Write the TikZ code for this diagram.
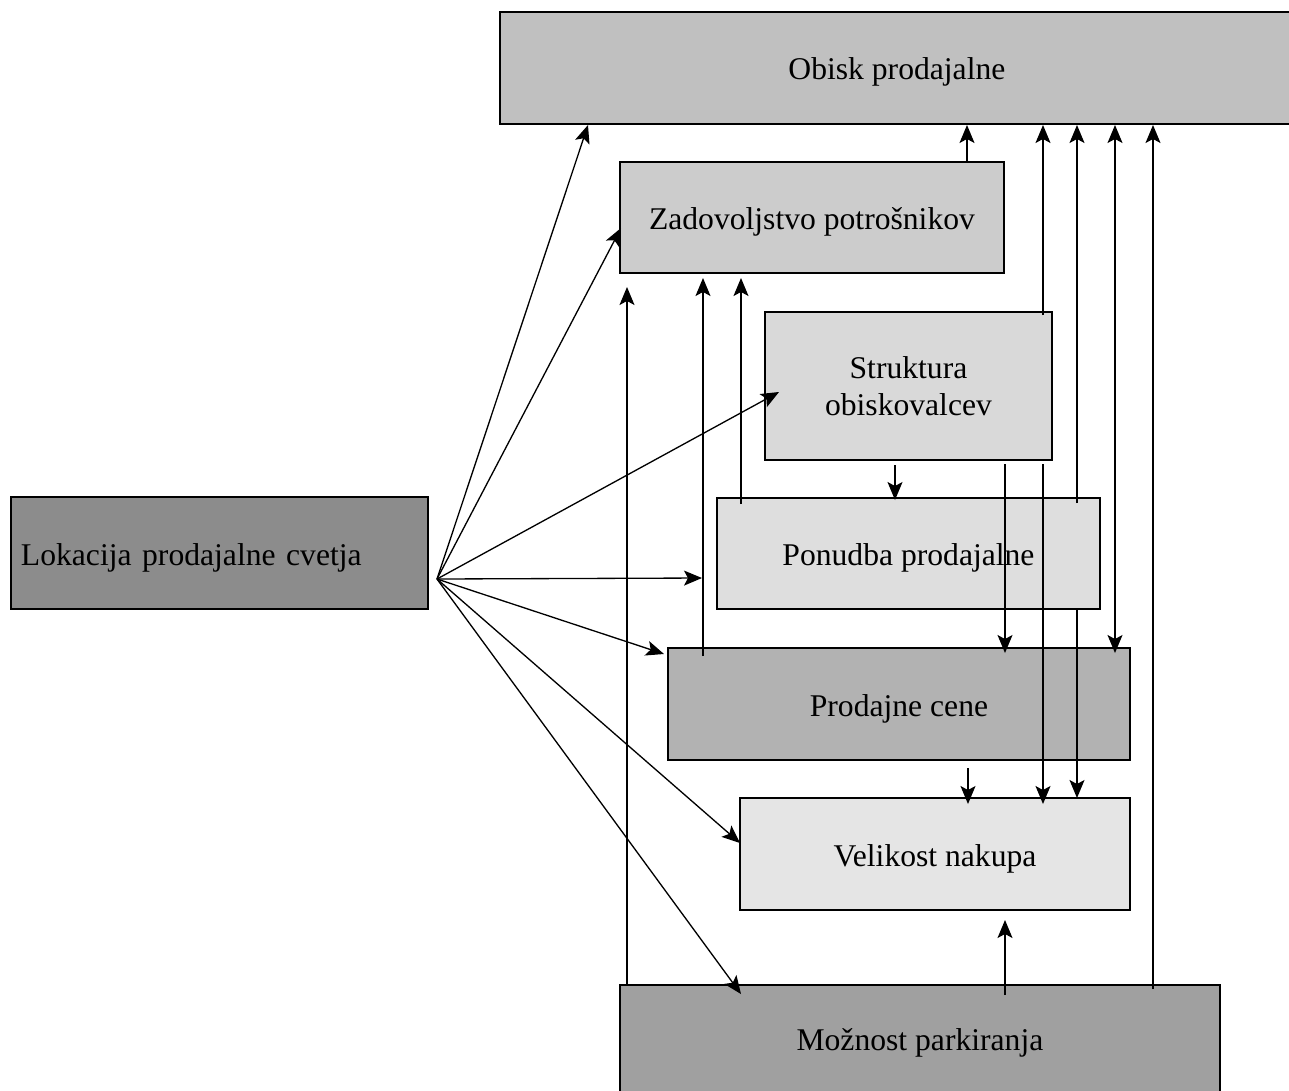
\documentclass[tikz,border=0pt]{standalone}
\usepackage{fontspec}
\setmainfont{Liberation Serif}
\usetikzlibrary{arrows.meta}
\definecolor{cObisk}{HTML}{C0C0C0}
\definecolor{cZad}{HTML}{CCCCCC}
\definecolor{cStr}{HTML}{D9D9D9}
\definecolor{cPon}{HTML}{DEDEDE}
\definecolor{cPro}{HTML}{B2B2B2}
\definecolor{cVel}{HTML}{E5E5E5}
\definecolor{cMoz}{HTML}{A0A0A0}
\definecolor{cLok}{HTML}{8C8C8C}
\begin{document}
\begin{tikzpicture}[x=0.02cm,y=-0.02cm,
  box/.style={draw=black, line width=0.8pt, anchor=north west, inner sep=0pt, outer sep=0pt,
    font=\fontsize{18pt}{21pt}\selectfont, align=center},
  lowtext/.style={text height=0.54cm, text depth=0.06cm},
  tipS/.tip={Stealth[length=0.36cm,width=0.3cm,inset=0.08cm]},
  arr/.style={line width=0.75pt, -tipS},
  arrboth/.style={line width=0.75pt, tipS-tipS}]
\useasboundingbox (0,0) rectangle (1289,1090);
\clip (0,0) rectangle (1289,1090);
\fill[white] (0,0) rectangle (1289,1090);

% boxes
\node[box, draw=none, lowtext, fill=cObisk, minimum width=15.88cm, minimum height=2.24cm] (obisk) at (500,12) {Obisk prodajalne};
\draw[line width=0.8pt] (obisk.north east) -- (obisk.north west) -- (obisk.south west) -- (obisk.south east);
\node[box, lowtext, fill=cZad, minimum width=7.68cm, minimum height=2.22cm] (zad) at (620,162) {Zadovoljstvo potrošnikov};
\node[box, fill=cStr, minimum width=5.74cm, minimum height=2.96cm] (str) at (765,312) {Struktura\\obiskovalcev};
\node[box, lowtext, fill=cPon, minimum width=7.66cm, minimum height=2.22cm] (pon) at (717,498) {Ponudba prodajalne};
\node[box, lowtext, fill=cPro, minimum width=9.24cm, minimum height=2.24cm] (pro) at (668,648) {Prodajne cene};
\node[box, lowtext, fill=cVel, minimum width=7.8cm, minimum height=2.24cm] (vel) at (740,798) {Velikost nakupa};
\node[box, fill=cMoz, minimum width=12cm, minimum height=2.3cm] (moz) at (620,985) {Možnost parkiranja};
\node[box, fill=cLok, text height=0.58cm, text depth=0.06cm, minimum height=2.24cm, inner xsep=0.2cm, text width=7.94cm, align=left] (lok) at (11,497) {Lokacija prodajalne cvetja};

% fan from Lokacija
\coordinate (fan) at (437,579);
\coordinate (f1) at (588,125);
\coordinate (f2) at (621,228);
\coordinate (f3) at (779,392);
\coordinate (f4) at (702,578);
\coordinate (f5) at (664,654);
\coordinate (f6) at (740,843);
\coordinate (f7) at (741,994);
\foreach \t in {f1,f2,f3,f4,f5,f6,f7} \draw[arr] (fan) -- (\t);

% up to Zadovoljstvo
\coordinate (t1) at (627,287);
\coordinate (t2) at (703,278);
\coordinate (t3) at (741,278);
\coordinate (s2) at (703,656);
\coordinate (s3) at (741,504);
\draw[arr] (t1 |- moz.north) -- (t1);
\draw[arr] (s2) -- (t2);
\draw[arr] (s3) -- (t3);

% up to Obisk
\coordinate (o1) at (967,125);
\coordinate (o2) at (1043,125);
\coordinate (o3) at (1077,125);
\coordinate (o4) at (1115,125);
\coordinate (o5) at (1153,125);
\coordinate (s5) at (1043,315);
\coordinate (s6) at (1077,503);
\coordinate (s7) at (1115,653);
\coordinate (s8) at (1153,989);
\draw[arr] (o1 |- zad.north) -- (o1);
\draw[arr] (s5) -- (o2);
\draw[arr] (s6) -- (o3);
\draw[arrboth] (s7) -- (o4);
\draw[arr] (s8) -- (o5);

% downward
\coordinate (d1s) at (895,465);
\coordinate (d1) at (895,500);
\coordinate (d2s) at (1005,464);
\coordinate (d2) at (1005,653);
\coordinate (d3s) at (1043,464);
\coordinate (d3) at (1043,804);
\coordinate (d4) at (1077,798);
\coordinate (d5s) at (968,768);
\coordinate (d5) at (968,804);
\draw[arr] (d1s) -- (d1);
\draw[arr] (d2s) -- (d2);
\draw[arr] (d3s) -- (d3);
\draw[arr] (d4 |- pon.south) -- (d4);
\draw[arr] (d5s) -- (d5);

% Možnost parkiranja -> Velikost nakupa
\coordinate (m1s) at (1005,995);
\coordinate (m1) at (1005,920);
\draw[arr] (m1s) -- (m1);
\end{tikzpicture}
\end{document}
